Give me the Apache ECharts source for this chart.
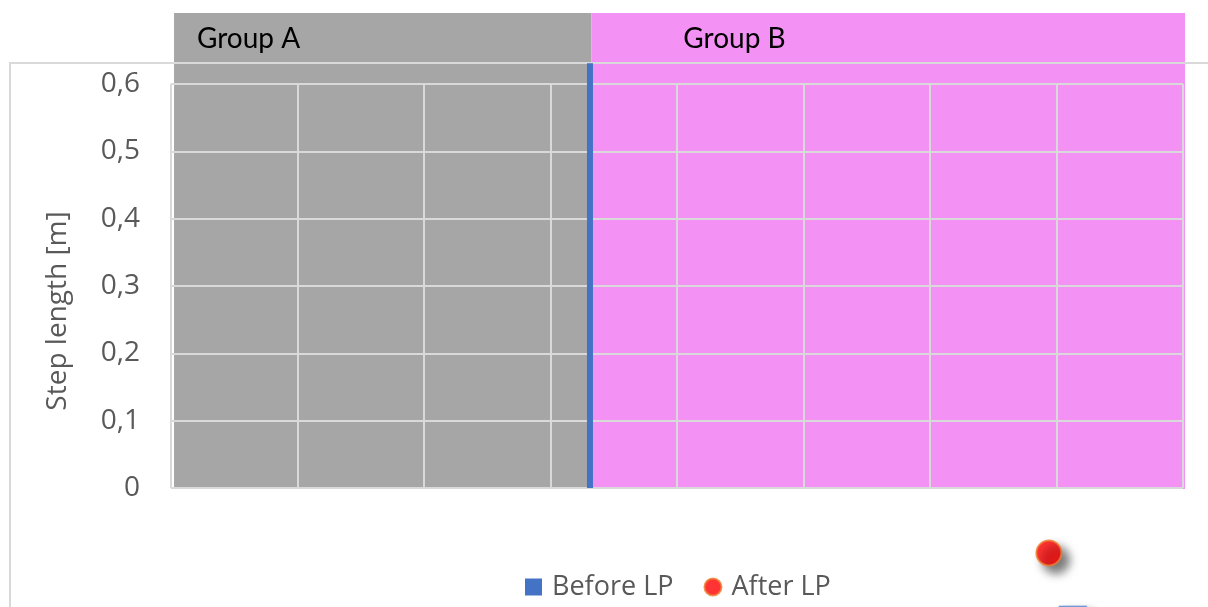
<!DOCTYPE html>
<html>
<head>
<meta charset="utf-8">
<script src="https://cdn.jsdelivr.net/npm/echarts@6/dist/echarts.min.js"></script>
<style>
  html, body { margin: 0; padding: 0; background: #ffffff; }
  #chart { width: 1208px; height: 607px; }
</style>
</head>
<body>
<div id="chart"></div>
<script>
// Group bands along the x scale
const groupNames = ['Group A', 'Group B'];
const groupStart = [0.024, 3.324];
const groupEnd = [3.324, 8.016];
const groupColors = ['#a6a6a6', '#f391f5'];

// Step length series
const beforeLP = [[3.312, 0.631], [7.13, -0.196]];
const afterLP = [[6.94, -0.0965]];

// Y tick labels (decimal comma)
const yTickLabels = ['0', '0,1', '0,2', '0,3', '0,4', '0,5', '0,6'];

// Layout constants
const BAND_TOP = 0.7055;
const LABEL_AT = [0.205, 4.05];

const chart = echarts.init(document.getElementById('chart'), null, { renderer: 'canvas' });

const bandData = groupNames.map((n, i) => [groupStart[i], groupEnd[i], LABEL_AT[i]]);

const option = {
  animation: false,
  backgroundColor: '#ffffff',
  grid: { left: 171, right: 25, top: 84, bottom: 119, containLabel: false },
  xAxis: {
    type: 'value', min: 0, max: 8, interval: 1,
    axisLine: { show: false }, axisTick: { show: false }, axisLabel: { show: false },
    splitLine: { show: true, lineStyle: { color: '#d9d9d9', width: 2 } }
  },
  yAxis: {
    type: 'value', min: 0, max: 0.6, interval: 0.1,
    axisLine: { show: false }, axisTick: { show: false },
    axisLabel: {
      margin: 31, color: '#595959', fontSize: 28, fontFamily: 'Open Sans',
      formatter: (v, i) => yTickLabels[i]
    },
    splitLine: { show: true, lineStyle: { color: '#d9d9d9', width: 2 } },
    name: 'Step length [m]', nameLocation: 'middle', nameGap: 99,
    nameTextStyle: { color: '#595959', fontSize: 28, fontFamily: 'Open Sans', padding: [0, 50, 0, 0] }
  },
  legend: {
    left: 525, top: 572, padding: 0, itemWidth: 17, itemHeight: 17, itemGap: 30,
    textStyle: { color: '#595959', fontSize: 27, fontFamily: 'Open Sans', lineHeight: 30, padding: [0, 0, 0, 5] },
    data: [
      { name: 'Before LP', icon: 'rect', itemStyle: { color: '#4472c4' } },
      { name: 'After LP', icon: 'circle', itemStyle: { color: '#ff0000', borderColor: '#ed7d31', borderWidth: 2 } }
    ]
  },
  graphic: [
    {
      type: 'rect', z: 0,
      shape: { x: 10, y: 63, width: 1260, height: 600 },
      style: { fill: 'none', stroke: '#d9d9d9', lineWidth: 2 },
      silent: true
    }
  ],
  series: [
    {
      type: 'custom', name: 'bands', z: -1, clip: false, silent: true,
      data: bandData,
      encode: { x: [0, 1] },
      renderItem: (params, api) => {
        const i = params.dataIndex;
        const p0 = api.coord([api.value(0), BAND_TOP]);
        const p1 = api.coord([api.value(1), 0]);
        const lab = api.coord([api.value(2), BAND_TOP]);
        return {
          type: 'group',
          children: [
            {
              type: 'rect',
              shape: { x: p0[0], y: p0[1], width: p1[0] - p0[0], height: p1[1] - p0[1] + 1 },
              style: { fill: groupColors[i] }
            },
            {
              type: 'text',
              style: {
                text: groupNames[i], x: lab[0], y: p0[1] + 26,
                fill: '#000000', font: '28px Lato', verticalAlign: 'middle', align: 'left'
              }
            }
          ]
        };
      }
    },
    {
      type: 'bar', name: 'Before LP', z: 3, clip: false, barWidth: 6,
      data: beforeLP.slice(0, 1),
      itemStyle: { color: '#4472c4' }
    },
    {
      type: 'scatter', name: 'Before LP', z: 4, clip: false,
      symbol: 'rect', symbolSize: 28,
      data: beforeLP.slice(1),
      itemStyle: {
        color: '#4472c4', borderColor: '#8fb0e6', borderWidth: 1,
        shadowBlur: 10, shadowColor: 'rgba(0,0,0,0.6)', shadowOffsetX: 6, shadowOffsetY: 6
      }
    },
    {
      type: 'scatter', name: 'After LP', z: 4, clip: false,
      symbol: 'circle', symbolSize: 25,
      data: afterLP,
      itemStyle: {
        color: '#ff0000', borderColor: '#ed7d31', borderWidth: 2,
        shadowBlur: 10, shadowColor: 'rgba(0,0,0,0.65)', shadowOffsetX: 7, shadowOffsetY: 7
      }
    }
  ]
};

chart.setOption(option);
</script>
</body>
</html>
